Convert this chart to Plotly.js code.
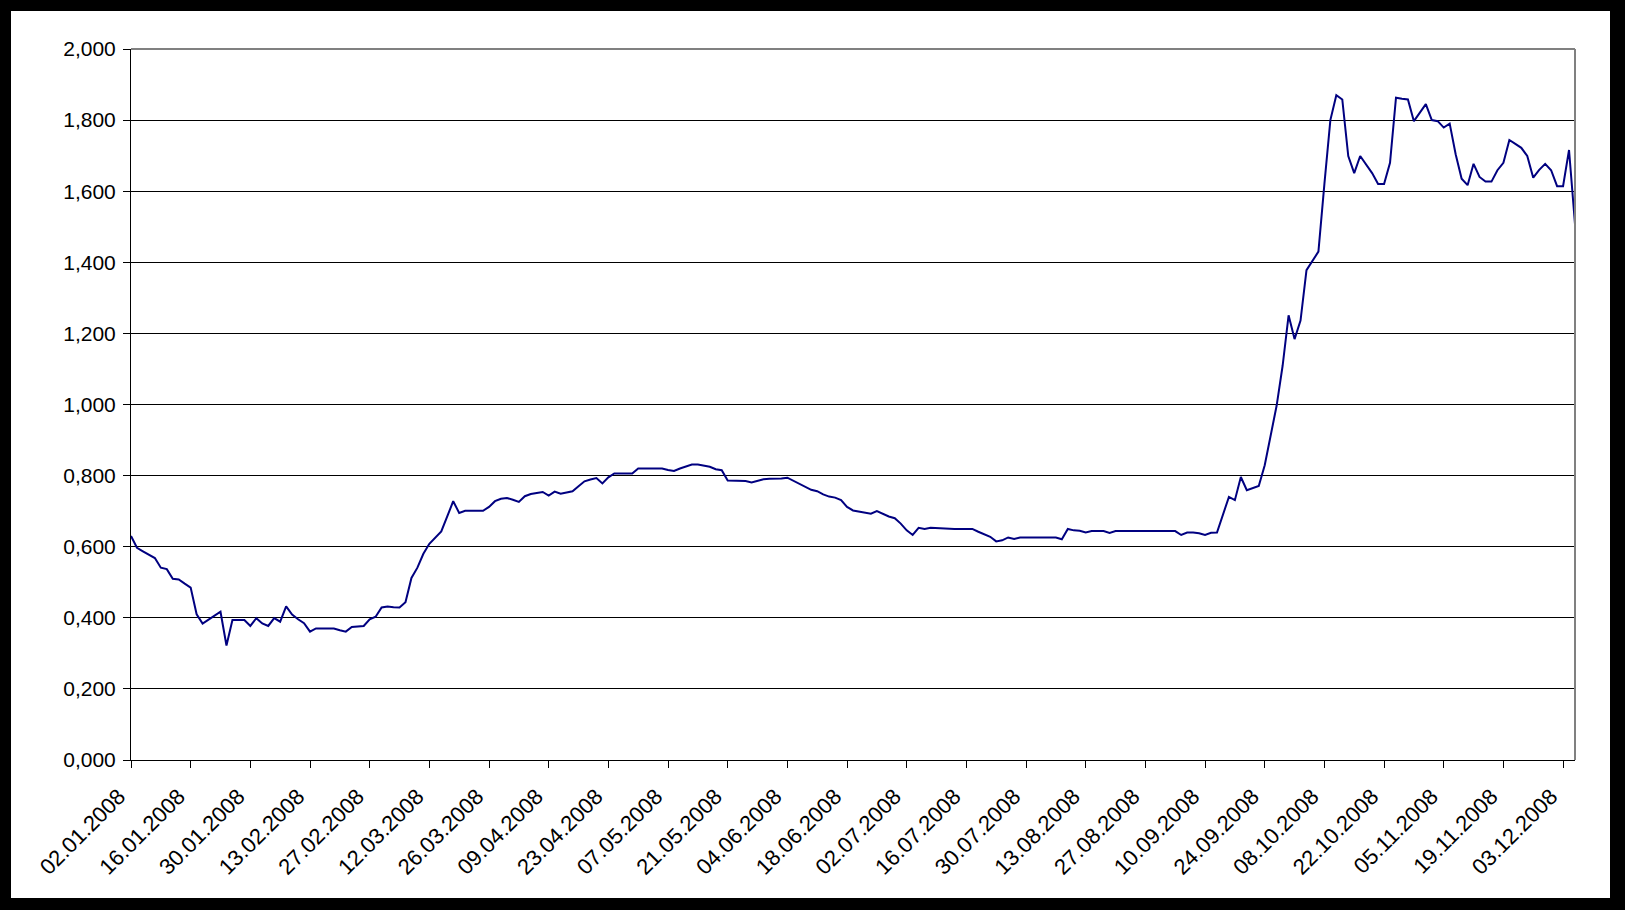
<!DOCTYPE html>
<html>
<head>
<meta charset="utf-8">
<script src="https://cdn.plot.ly/plotly-3.0.1.min.js"></script>
<style>
html,body{margin:0;padding:0;background:#000;width:1625px;height:910px;overflow:hidden}
#chart{position:absolute;left:11px;top:11px;width:1599px;height:887px;background:#fff}
</style>
</head>
<body>
<div id="chart"></div>
<script>
// Daily values (trading days, Mon-Fri) starting 02.01.2008
const values = [
0.630,0.597,0.587,0.577,0.568,0.541,0.537,0.510,0.508,0.496,
0.485,0.410,0.384,0.395,0.406,0.417,0.322,0.394,0.394,0.394,
0.377,0.399,0.384,0.377,0.399,0.389,0.432,0.409,0.396,0.385,
0.361,0.370,0.370,0.370,0.370,0.365,0.361,0.374,0.376,0.377,
0.396,0.403,0.429,0.432,0.430,0.429,0.444,0.512,0.541,0.580,
0.608,0.625,0.643,0.685,0.728,0.695,0.701,0.701,0.701,0.701,
0.712,0.728,0.735,0.737,0.732,0.726,0.742,0.748,0.751,0.754,
0.744,0.755,0.749,0.753,0.756,0.770,0.784,0.789,0.793,0.778,
0.795,0.806,0.806,0.806,0.806,0.820,0.820,0.820,0.820,0.820,
0.816,0.813,0.820,0.826,0.831,0.831,0.828,0.825,0.818,0.815,
0.786,0.785,0.785,0.785,0.781,0.785,0.790,0.791,0.791,0.792,
0.794,0.786,0.778,0.769,0.760,0.756,0.747,0.741,0.738,0.731,
0.712,0.702,0.699,0.697,0.693,0.700,0.692,0.685,0.680,0.665,
0.646,0.633,0.653,0.650,0.653,0.652,0.650,0.650,0.650,0.650,
0.650,0.650,0.642,0.634,0.628,0.615,0.618,0.626,0.622,0.626,
0.626,0.626,0.626,0.626,0.626,0.626,0.621,0.650,0.646,0.645,
0.640,0.644,0.644,0.644,0.639,0.644,0.644,0.644,0.644,0.644,
0.644,0.644,0.644,0.644,0.644,0.644,0.633,0.640,0.640,0.638,
0.633,0.639,0.640,0.693,0.740,0.731,0.796,0.759,0.765,0.771,
0.829,0.918,0.997,1.109,1.251,1.184,1.236,1.378,1.403,1.430,
1.620,1.800,1.870,1.858,1.699,1.651,1.699,1.675,1.651,1.620,
1.620,1.680,1.863,1.860,1.858,1.797,1.821,1.845,1.800,1.797,
1.779,1.790,1.704,1.635,1.617,1.677,1.640,1.627,1.627,1.659,
1.680,1.744,1.733,1.722,1.699,1.638,1.660,1.677,1.659,1.614,
1.614,1.716,1.507
];
const firstDate = [2008, 1, 2];   // year, month, day
const labelEvery = 10;             // one tick label every 10 trading days
const yTicks = [0, 0.2, 0.4, 0.6, 0.8, 1.0, 1.2, 1.4, 1.6, 1.8, 2.0];

// category labels: consecutive weekdays
function pad(n){ return (n < 10 ? '0' : '') + n; }
const dates = [];
let d = new Date(Date.UTC(firstDate[0], firstDate[1]-1, firstDate[2]));
while (dates.length < values.length) {
  const wd = d.getUTCDay();
  if (wd !== 0 && wd !== 6) {
    dates.push(pad(d.getUTCDate()) + '.' + pad(d.getUTCMonth()+1) + '.' + d.getUTCFullYear());
  }
  d = new Date(d.getTime() + 86400000);
}
const tickDates = dates.filter((_, i) => i % labelEvery === 0);

const trace = {
  type: 'scatter', mode: 'lines',
  x: dates, y: values,
  line: {color: '#000080', width: 2},
  hoverinfo: 'x+y'
};

const fontY = {family: '"Liberation Sans", Arial, sans-serif', size: 21, color: '#000'};
const fontX = {family: '"Liberation Sans", Arial, sans-serif', size: 22, color: '#000'};

const layout = {
  width: 1599, height: 887,
  margin: {l: 120, r: 35, t: 38, b: 138, pad: 0},
  paper_bgcolor: '#fff', plot_bgcolor: '#fff',
  separators: ',.',
  font: fontY,
  showlegend: false,
  xaxis: {
    type: 'category',
    range: [0, values.length - 1],
    tickmode: 'array', tickvals: tickDates, ticktext: tickDates,
    tickangle: -45,
    ticks: 'outside', ticklen: 7, tickcolor: '#000', tickwidth: 1,
    ticklabelstandoff: 7,
    ticklabelshift: -12,
    showgrid: false, zeroline: false,
    showline: true, linecolor: '#000', linewidth: 1,
    tickfont: fontX, automargin: false
  },
  yaxis: {
    range: [0, 2],
    tickmode: 'array', tickvals: yTicks,
    tickformat: '.3f',
    ticks: 'outside', ticklen: 7, tickcolor: '#000', tickwidth: 1,
    ticklabelstandoff: 3,
    showgrid: true, gridcolor: '#000', gridwidth: 1,
    zeroline: false,
    showline: true, linecolor: '#000', linewidth: 1,
    tickfont: fontY, automargin: false
  },
  shapes: [
    {type: 'line', xref: 'paper', yref: 'paper', x0: 0, x1: 1, y0: 1, y1: 1,
     line: {color: '#808080', width: 2}},
    {type: 'line', xref: 'paper', yref: 'paper', x0: 1, x1: 1, y0: 0, y1: 1,
     line: {color: '#808080', width: 2}}
  ]
};

Plotly.newPlot('chart', [trace], layout, {displayModeBar: false, staticPlot: true});
</script>
</body>
</html>
